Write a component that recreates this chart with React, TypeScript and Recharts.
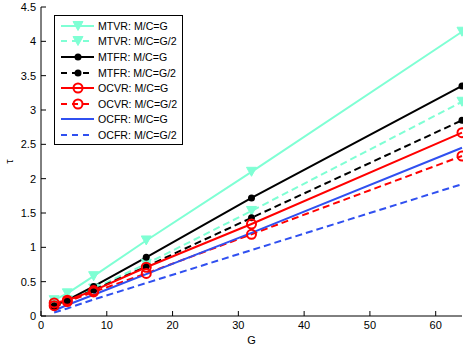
import { LineChart, Line, XAxis, YAxis, Legend } from "recharts";

const G = [2, 4, 8, 16, 32, 64];
const mtvrG = [0.23, 0.33, 0.58, 1.1, 2.1, 4.14];
const mtvrG2 = [0.16, 0.23, 0.4, 0.76, 1.53, 3.12];
const mtfrG = [0.15, 0.23, 0.43, 0.855, 1.72, 3.35];
const mtfrG2 = [0.13, 0.21, 0.38, 0.72, 1.43, 2.85];
const ocvrG = [0.19, 0.23, 0.37, 0.71, 1.34, 2.67];
const ocvrG2 = [0.15, 0.21, 0.35, 0.62, 1.19, 2.33];
const ocfrG = [0.08, 0.16, 0.31, 0.61, 1.21, 2.45];
const ocfrG2 = [0.05, 0.11, 0.24, 0.48, 0.96, 1.92];

const xTicks = [0, 10, 20, 30, 40, 50, 60];
const yTicks = [0, 0.5, 1, 1.5, 2, 2.5, 3, 3.5, 4, 4.5];

const data = G.map((g, i) => ({
  g,
  mtvrG: mtvrG[i],
  mtvrG2: mtvrG2[i],
  mtfrG: mtfrG[i],
  mtfrG2: mtfrG2[i],
  ocvrG: ocvrG[i],
  ocvrG2: ocvrG2[i],
  ocfrG: ocfrG[i],
  ocfrG2: ocfrG2[i],
}));

const AQUA = "#7fffd4";
const BLACK = "#000000";
const RED = "#ff0000";
const BLUE = "#3050f0";
const DASH = "7 4";
const FONT = "'Liberation Sans', Arial, sans-serif";

type Marker = "tri" | "dot" | "ring" | "none";

const series: { key: string; name: string; color: string; dashed: boolean; marker: Marker }[] = [
  { key: "mtvrG", name: "MTVR: M/C=G", color: AQUA, dashed: false, marker: "tri" },
  { key: "mtvrG2", name: "MTVR: M/C=G/2", color: AQUA, dashed: true, marker: "tri" },
  { key: "mtfrG", name: "MTFR: M/C=G", color: BLACK, dashed: false, marker: "dot" },
  { key: "mtfrG2", name: "MTFR: M/C=G/2", color: BLACK, dashed: true, marker: "dot" },
  { key: "ocvrG", name: "OCVR: M/C=G", color: RED, dashed: false, marker: "ring" },
  { key: "ocvrG2", name: "OCVR: M/C=G/2", color: RED, dashed: true, marker: "ring" },
  { key: "ocfrG", name: "OCFR: M/C=G", color: BLUE, dashed: false, marker: "none" },
  { key: "ocfrG2", name: "OCFR: M/C=G/2", color: BLUE, dashed: true, marker: "none" },
];

function drawMarker(marker: Marker, color: string, cx: number, cy: number, key?: string) {
  if (marker === "tri") {
    return (
      <path
        key={key}
        d={`M${cx - 5},${cy - 4.5}L${cx + 5},${cy - 4.5}L${cx},${cy + 4.5}Z`}
        fill={color}
        stroke={color}
      />
    );
  }
  if (marker === "dot") {
    return <circle key={key} cx={cx} cy={cy} r={3.5} fill={color} />;
  }
  if (marker === "ring") {
    return <circle key={key} cx={cx} cy={cy} r={4.5} fill="none" stroke={color} strokeWidth={2} />;
  }
  return <g key={key} />;
}

function renderLegend() {
  return (
    <div
      style={{
        width: 127,
        height: 126,
        border: "1px solid #000",
        background: "#fff",
        fontFamily: FONT,
        fontSize: 10.6,
        paddingTop: 2,
        boxSizing: "content-box",
      }}
    >
      {series.map((s) => (
        <div key={s.key} style={{ display: "flex", alignItems: "center", height: 15.6 }}>
          <svg width={43} height={14} style={{ flex: "none" }}>
            <line
              x1={6}
              x2={39}
              y1={7}
              y2={7}
              stroke={s.color}
              strokeWidth={2}
              strokeDasharray={s.dashed ? "6 5" : undefined}
            />
            {drawMarker(s.marker, s.color, 23, 7)}
          </svg>
          <span style={{ color: "#000", whiteSpace: "nowrap" }}>{s.name}</span>
        </div>
      ))}
    </div>
  );
}

export default function App() {
  return (
    <div style={{ position: "absolute", left: 0, top: 0 }}>
      <LineChart
        width={463}
        height={348}
        data={data}
        margin={{ top: 7, right: 1, bottom: 0, left: 0 }}
        style={{ fontFamily: FONT }}
      >
        <XAxis
          dataKey="g"
          type="number"
          domain={[0, 64]}
          ticks={xTicks}
          tickSize={-5}
          tickMargin={10}
          height={32}
          stroke="#000"
          tick={{ fill: "#000", fontSize: 11 }}
          label={{ value: "G", position: "insideBottom", offset: 4, fill: "#000", fontSize: 11 }}
        />
        <YAxis
          type="number"
          domain={[0, 4.5]}
          ticks={yTicks}
          tickSize={-5}
          tickMargin={10}
          width={41}
          stroke="#000"
          tick={{ fill: "#000", fontSize: 11 }}
          label={{
            value: "τ",
            angle: -90,
            position: "insideLeft",
            offset: 9,
            fill: "#000",
            fontSize: 11,
            style: { textAnchor: "middle" },
          }}
        />
        <XAxis
          xAxisId="top"
          orientation="top"
          dataKey="g"
          type="number"
          domain={[0, 64]}
          ticks={xTicks}
          tick={false}
          tickSize={-5}
          height={0}
          stroke="#000"
        />
        <YAxis
          yAxisId="right"
          orientation="right"
          type="number"
          domain={[0, 4.5]}
          ticks={yTicks}
          tick={false}
          tickSize={-5}
          width={0}
          stroke="#000"
        />
        <Legend
          layout="horizontal"
          verticalAlign="middle"
          align="center"
          content={renderLegend}
          wrapperStyle={{ left: 54, top: 15, width: "auto", height: "auto" }}
        />
        {series.map((s) => (
          <Line
            key={s.key}
            dataKey={s.key}
            name={s.name}
            stroke={s.color}
            strokeWidth={2}
            strokeDasharray={s.dashed ? DASH : undefined}
            isAnimationActive={false}
            dot={(p: any) => drawMarker(s.marker, s.color, p.cx, p.cy, `${s.key}-${p.index}`)}
            activeDot={false}
          />
        ))}
      </LineChart>
    </div>
  );
}
